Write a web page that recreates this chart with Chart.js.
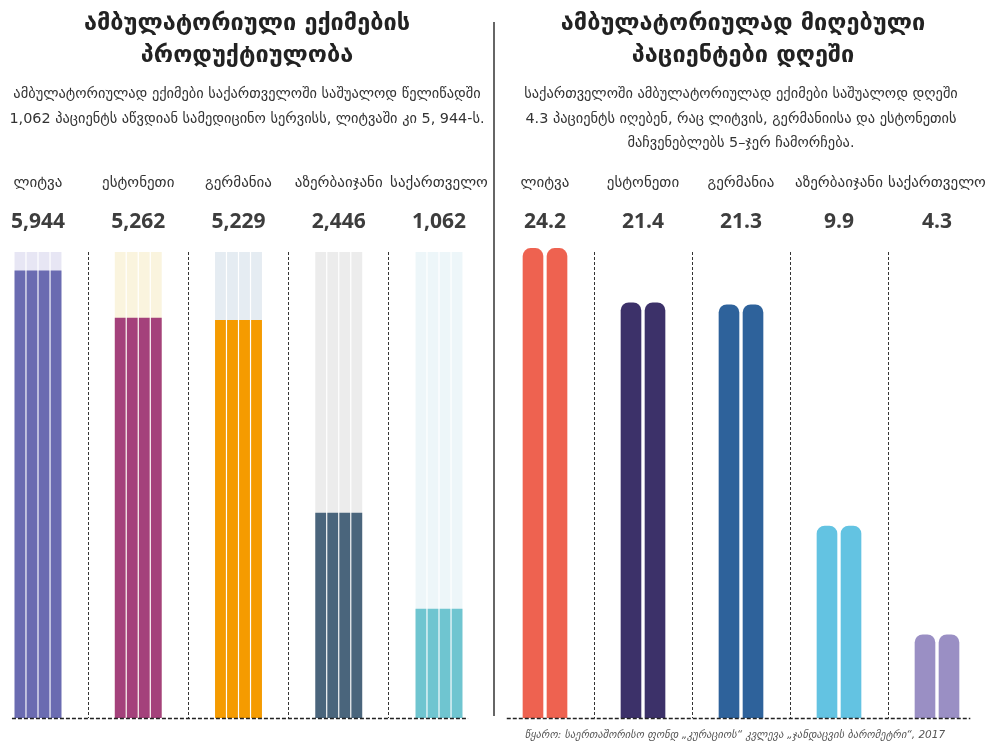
<!DOCTYPE html>
<html lang="ka">
<head>
<meta charset="utf-8">
<title>ამბულატორიული ექიმების პროდუქტიულობა</title>
<script src="https://cdn.jsdelivr.net/npm/chart.js@4/dist/chart.umd.min.js"></script>
<style>
  body { margin: 0; background: #fff; }
  #page { position: relative; width: 992px; height: 742px; overflow: hidden; font-family: "DejaVu Sans", sans-serif; color: #222; }
  .title { position: absolute; top: 6px; width: 494px; text-align: center; font-size: 23.5px; font-weight: bold; line-height: 32px; z-index: 2; }
  .sub { position: absolute; top: 81px; width: 494px; text-align: center; font-size: 14.4px; line-height: 24.5px; color: #333; z-index: 2; }
  canvas { position: absolute; top: 0; }
  #divider { position: absolute; left: 493px; top: 22px; width: 2px; height: 694px; background: #666; }
  #source { position: absolute; left: 496px; width: 478px; top: 728px; text-align: center; font-size: 10.5px; font-style: italic; color: #555; }
</style>
</head>
<body>
<div id="page">
  <div class="title" style="left:0">ამბულატორიული ექიმების<br>პროდუქტიულობა</div>
  <div class="sub" style="left:0">ამბულატორიულად ექიმები საქართველოში საშუალოდ წელიწადში<br>1,062 პაციენტს აწვდიან სამედიცინო სერვისს, ლიტვაში კი 5, 944-ს.</div>
  <div class="title" style="left:496px">ამბულატორიულად მიღებული<br>პაციენტები დღეში</div>
  <div class="sub" style="left:494px">საქართველოში ამბულატორიულად ექიმები საშუალოდ დღეში<br>4.3 პაციენტს იღებენ, რაც ლიტვის, გერმანიისა და ესტონეთის<br>მაჩვენებლებს 5–ჯერ ჩამორჩება.</div>
  <canvas id="yearChart" width="494" height="742" style="left:0"></canvas>
  <canvas id="dayChart" width="496" height="742" style="left:496px"></canvas>
  <div id="divider"></div>
  <div id="source">წყარო: საერთაშორისო ფონდ „კურაციოს“ კვლევა „ჯანდაცვის ბარომეტრი“, 2017</div>
</div>

<script>
const countries = ['ლიტვა', 'ესტონეთი', 'გერმანია', 'აზერბაიჯანი', 'საქართველო'];

// patients served per doctor per year / seen per day
const patientsPerYear = [5944, 5262, 5229, 2446, 1062];
const patientsPerDay = [24.2, 21.4, 21.3, 9.9, 4.3];

const yearColors = ['#6a6bb1', '#a4417b', '#f59b00', '#4a657c', '#6fc5d0'];
const yearTrackColors = ['#e7e6f4', '#faf4de', '#e5ecf2', '#ececec', '#edf6f9'];
const dayColors = ['#ee6250', '#3c3169', '#2e629b', '#63c3e2', '#9a8fc4'];

const yearAxisMin = -515;
const yearAxisMax = 6210;
const dayAxisMax = 24;

// country name and its big number above each column
const columnHeads = {
    id: 'columnHeads',
    afterDraw(chart, args, opts) {
        const { ctx, chartArea, scales } = chart;
        ctx.save();
        ctx.textAlign = 'center';
        ctx.textBaseline = 'middle';
        chart.data.labels.forEach((name, i) => {
            const x = scales.x.getPixelForValue(i);
            ctx.font = '15px "DejaVu Sans", sans-serif';
            ctx.fillStyle = '#333';
            ctx.fillText(name, x, chartArea.top - 69);
            ctx.font = 'bold 21px "Open Sans", sans-serif';
            ctx.fillStyle = '#3d3d3d';
            ctx.fillText(opts.format(opts.values[i]), x, chartArea.top - 30);
        });
        ctx.restore();
    }
};

// dashed floor line under the columns
const baseline = {
    id: 'baseline',
    afterDatasetsDraw(chart, args, opts) {
        const { ctx, chartArea, scales } = chart;
        const n = chart.data.labels.length;
        const step = scales.x.getPixelForValue(1) - scales.x.getPixelForValue(0);
        ctx.save();
        ctx.strokeStyle = '#222';
        ctx.lineWidth = 1.5;
        ctx.setLineDash([4, 2]);
        ctx.beginPath();
        ctx.moveTo(scales.x.getPixelForValue(0) - step * opts.left, chartArea.bottom + 0.5);
        ctx.lineTo(scales.x.getPixelForValue(n - 1) + step * opts.right, chartArea.bottom + 0.5);
        ctx.stroke();
        ctx.restore();
    }
};

function xAxis() {
    return {
        offset: false,
        grid: { offset: true, color: '#333', lineWidth: 1, drawTicks: false },
        border: { display: false, dash: [3, 2] },
        ticks: { display: false }
    };
}

// four thin strips per country, each over a pale track up to the scale top
const yearDatasets = [];
for (let s = 0; s < 4; s++) {
    yearDatasets.push({
        data: patientsPerYear,
        stack: 'c' + s,
        backgroundColor: yearColors,
        base: yearAxisMin,
        order: 0,
        clip: false
    });
}
for (let s = 0; s < 4; s++) {
    yearDatasets.push({
        data: countries.map(() => yearAxisMax),
        stack: 'c' + s,
        backgroundColor: yearTrackColors,
        base: yearAxisMin,
        order: 1,
        clip: false
    });
}

new Chart(document.getElementById('yearChart'), {
    type: 'bar',
    data: { labels: countries, datasets: yearDatasets },
    options: {
        responsive: false,
        animation: false,
        categoryPercentage: 0.48,
        barPercentage: 0.9,
        layout: { padding: { left: 38, right: 55, top: 252, bottom: 24 } },
        plugins: {
            legend: { display: false },
            tooltip: { enabled: false },
            columnHeads: { values: patientsPerYear, format: v => v.toLocaleString('en-US') },
            baseline: { left: 0.26, right: 0.29 }
        },
        scales: {
            x: xAxis(),
            y: { display: false, stacked: false, min: yearAxisMin, max: yearAxisMax }
        }
    },
    plugins: [columnHeads, baseline]
});

// two rounded pillars per country
const dayDatasets = [0, 1].map(() => ({
    data: patientsPerDay,
    backgroundColor: dayColors,
    borderRadius: 8,
    borderSkipped: 'start',
    clip: false
}));

new Chart(document.getElementById('dayChart'), {
    type: 'bar',
    data: { labels: countries, datasets: dayDatasets },
    options: {
        responsive: false,
        animation: false,
        categoryPercentage: 0.49,
        barPercentage: 0.86,
        layout: { padding: { left: 49, right: 55, top: 252, bottom: 24 } },
        plugins: {
            legend: { display: false },
            tooltip: { enabled: false },
            columnHeads: { values: patientsPerDay, format: v => v.toFixed(1) },
            baseline: { left: 0.39, right: 0.34 }
        },
        scales: {
            x: xAxis(),
            y: { display: false, min: 0, max: dayAxisMax }
        }
    },
    plugins: [columnHeads, baseline]
});
</script>
</body>
</html>
